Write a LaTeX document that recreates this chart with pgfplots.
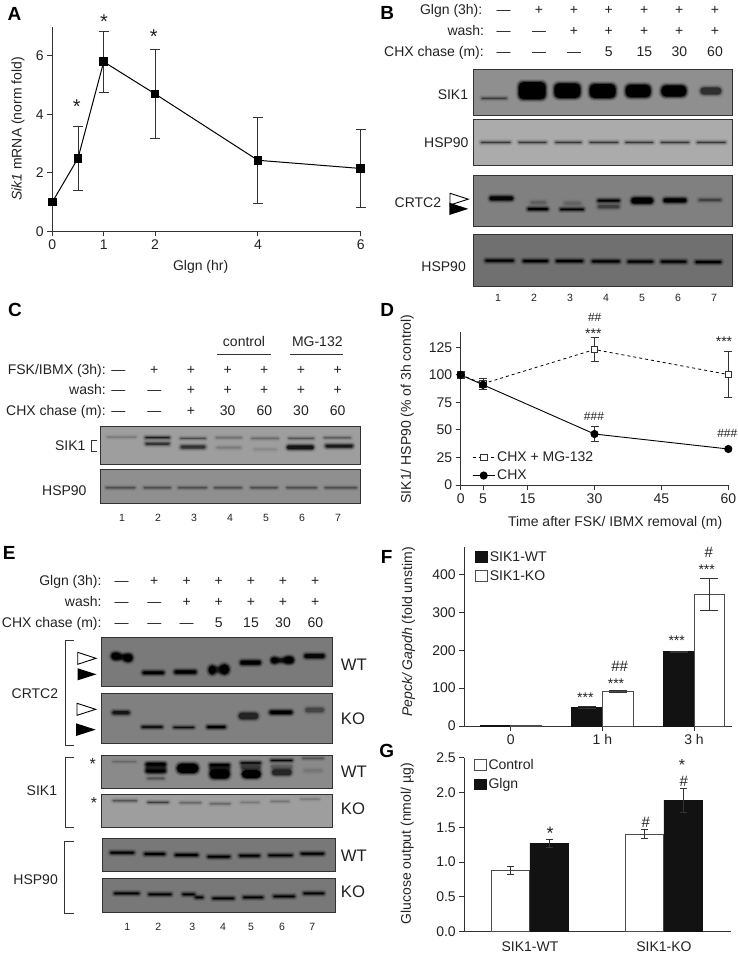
\documentclass[border=0pt]{standalone}
\usepackage{fontspec}
\setmainfont{Liberation Sans}
\usepackage{pgfplots}
\pgfplotsset{compat=1.18}
\definecolor{ax}{HTML}{333333}
\definecolor{tx}{HTML}{222222}
\newcommand\fn{\fontsize{14}{16}\selectfont}
\newcommand\fs{\fontsize{10.5}{12}\selectfont}
\pgfplotsset{base/.style={scale only axis,clip=false,axis x line*=bottom,axis y line*=left,
  every non boxed x axis/.append style={x axis line style={-}},
  every non boxed y axis/.append style={y axis line style={-}},
  axis line style={draw=ax,line width=.9pt,-},
  tick style={draw=ax,line width=.9pt},major tick length=5pt,tick align=outside,
  /pgf/number format/assume math mode=true,
  tick label style={font=\fn,text=tx},label style={font=\fn,text=tx},
  xlabel style={anchor=center},ylabel style={anchor=center}},
  boxleg/.style={legend image code/.code={\draw[##1] (0pt,-5pt) rectangle (11.7pt,5.3pt);}},
  lineleg/.style={legend image code/.code={\draw[##1,mark repeat=2,mark phase=2] plot coordinates {(0pt,0pt) (11pt,0pt) (22pt,0pt)};}}
}
% text helpers (pixel coordinates of the picture)
\newcommand\tr[3]{\node[anchor=mid east,inner sep=0pt,text=tx] at (#1,{#2+2.5}) {#3};}
\newcommand\tc[3]{\node[anchor=mid,inner sep=0pt,text=tx] at (#1,{#2+2.5}) {#3};}
\newcommand\tl[3]{\node[anchor=mid west,inner sep=0pt,text=tx] at (#1,{#2+2.5}) {#3};}
\newcommand\letter[3]{\node[anchor=center,inner sep=0pt,font=\fontsize{19}{20}\selectfont\bfseries,text=black] at (#1,#2) {#3};}
\newcommand\st[4]{\node[inner sep=0pt,text=tx,font=\fontsize{#3}{#3}\selectfont] at ({#1},{#2+0.2*#3}) {#4};}
\newcommand\hs[4]{\node[inner sep=0pt,text=tx,font=\fontsize{#3}{#3}\selectfont] at (#1,#2) {#4};}
\newcommand\blot[5]{\fill[fill=#5,draw=ax,line width=.8pt] (#1,#2) rectangle (#3,#4);}
% gel band in crop units: x0 x1 y h strength
\newcommand\band[5]{%
 \pgfmathsetmacro\rc{min(#4/6.5,5)}%
 \pgfmathsetmacro\oo{.10*#5}\pgfmathsetmacro\oa{.2*#5}\pgfmathsetmacro\ob{.42*#5}\pgfmathsetmacro\oc{#5}%
 \fill[black,opacity=\oo,rounded corners=\rc pt+2.2pt] ({#1-8},{#3-#4/2-8}) rectangle ({#2+8},{#3+#4/2+8});
 \fill[black,opacity=\oa,rounded corners=\rc pt+1.4pt] ({#1-5},{#3-#4/2-5}) rectangle ({#2+5},{#3+#4/2+5});
 \fill[black,opacity=\ob,rounded corners=\rc pt+.7pt] ({#1-2},{#3-#4/2-2}) rectangle ({#2+2},{#3+#4/2+2});
 \fill[black,opacity=\oc,rounded corners=\rc pt] ({#1+1},{#3-#4/2+1}) rectangle ({#2-1},{#3+#4/2-1});
}
\newcommand\arrw[4]{\fill[fill=white,draw=black,line width=.9pt] (#1,#2) -- (#3,{(#2+#4)/2}) -- (#1,#4) -- cycle;}
\newcommand\arrb[4]{\fill[black] (#1,#2) -- (#3,{(#2+#4)/2}) -- (#1,#4) -- cycle;}
\newcommand\brk[4]{\draw[ax,line width=1pt] (#3,#2) -- (#1,#2) -- (#1,#4) -- (#3,#4);}
\begin{document}
\begin{tikzpicture}[x=1pt,y=-1pt,font=\fn]
\useasboundingbox (0,0) rectangle (738,956);

% ---------- A
\begin{axis}[base,at={(52.3pt,-231.3pt)},anchor=south west,width=308.4pt,height=204.6pt,
 xmin=0,xmax=6,ymin=0,ymax=7,xtick={0,1,2,4,6},ytick={0,2,4,6},
 xlabel={Glgn (hr)},ylabel={\textit{Sik1} mRNA (norm fold)},
 xlabel style={at={(axis description cs:0.481,-0.174)}},
 ylabel style={at={(axis description cs:-0.111,0.5)}}]
\addplot[black,line width=1pt,mark=square*,mark size=3.8pt,mark options={solid,fill=black},
 error bars/.cd,y dir=both,y explicit,error bar style={ax,line width=.8pt},error mark options={rotate=90,mark size=5pt,ax,line width=.8pt}]
 coordinates {(0,1) (0.5,2.5) +- (0,1.1) (1,5.8) +- (0,1.04) (2,4.7) +- (0,1.52) (4,2.43) +- (0,1.47) (6,2.15) +- (0,1.32)};
\end{axis}
\st{76.7}{103}{20}{*}\st{104}{18}{20}{*}\st{153.7}{32.3}{20}{*}
\letter{14.5}{13.5}{A}

% ---------- B
\letter{387.3}{12.7}{B}
\tr{482.5}{9}{Glgn (3h):}\tr{484.3}{30.7}{wash:}\tr{484}{51.7}{CHX chase (m):}
\foreach \x/\a/\b/\c in {503.7/—/—/—,539/+/—/—,574/+/+/—,608.7/+/+/5,644.3/+/+/15,679.3/+/+/30,715/+/+/60}{
  \tc{\x}{9}{\a}\tc{\x}{30.7}{\b}\tc{\x}{51.7}{\c}}
\blot{473.3}{69.3}{732.3}{115}{black!44}
\blot{473.3}{119.3}{732.3}{165.3}{black!33}
\blot{473.3}{175.3}{732.3}{226.7}{black!50}
\blot{473.3}{234.3}{732.3}{286}{black!56}
\begin{scope}[shift={(370,0)},x=.33333pt,y=-.33333pt]
\band{335}{410}{295}{4}{.55}
\band{445}{528}{272}{54}{1}\band{552}{632}{272}{46}{1}\band{658}{738}{273}{44}{1}\band{766}{843}{273}{40}{1}\band{873}{950}{273}{36}{1}
\band{990}{1055}{273}{24}{.5}
\foreach \a/\b in {332/422,445/530,555/635,658/745,765/850,872/958,980/1068}{\band{\a}{\b}{427}{5}{.5}}
\band{358}{430}{595}{14}{.9}
\band{472}{535}{627}{8}{1}\band{570}{642}{628}{7}{1}\band{480}{530}{608}{12}{.15}\band{580}{635}{610}{12}{.13}
\band{682}{750}{620}{12}{.35}\band{682}{750}{602}{8}{.95}
\band{783}{850}{602}{20}{1}\band{880}{950}{601}{14}{1}\band{985}{1055}{600}{9}{.35}
\foreach \a/\b/\y in {345/432/782,458/535/783,557/640/783,665/750/784,772/850/785,872/950/785,975/1055/786}{\band{\a}{\b}{\y}{8}{1}}
\end{scope}
\tr{468.3}{94}{SIK1}\tr{468.7}{142.7}{HSP90}\tr{441.3}{202.3}{CRTC2}\tr{466}{266}{HSP90}
\arrw{450}{193.3}{468.3}{205}\arrb{449.3}{202.7}{468.3}{215}
\begin{scope}[font=\fs]
\foreach \x/\n in {498/1,534/2,570/3,606/4,642/5,678/6,714/7}{\tc{\x}{296.5}{\n}}
\end{scope}

% ---------- C
\letter{15}{310}{C}
\tc{244}{341.7}{control}\tc{317.3}{341.7}{MG-132}
\draw[ax,line width=.9pt] (217.3,354) -- (270.7,354) (290.3,354) -- (343.3,354);
\tr{106}{369}{FSK/IBMX (3h):}\tr{106}{389.3}{wash:}\tr{106}{410.7}{CHX chase (m):}
\foreach \x/\a/\b/\c in {118.3/—/—/—,154.3/+/—/—,191/+/+/+,227.7/+/+/30,264.3/+/+/60,301/+/+/30,337.7/+/+/60}{
  \tc{\x}{369}{\a}\tc{\x}{389.3}{\b}\tc{\x}{410.7}{\c}}
\blot{100}{426}{360}{464.3}{black!38}
\blot{100}{469.3}{360}{503.3}{black!44}
\begin{scope}[shift={(0,290)},x=.33333pt,y=-.33333pt]
\band{322}{408}{441}{2}{.25}\band{435}{510}{443}{5}{.7}\band{540}{618}{445}{3}{.45}\band{648}{725}{443}{2}{.35}
\band{755}{835}{445}{2}{.4}\band{865}{942}{445}{3}{.4}\band{972}{1052}{443}{3}{.45}
\band{435}{510}{461}{9}{.5}\band{540}{618}{471}{12}{.5}\band{648}{725}{473}{8}{.13}\band{760}{830}{478}{6}{.08}
\band{860}{942}{472}{14}{.75}\band{975}{1060}{468}{11}{.7}
\foreach \a/\b in {318/405,432/512,535/620,643/725,752/832,860/950,975/1070}{\band{\a}{\b}{593}{3}{.5}}
\end{scope}
\tr{85.7}{445.7}{SIK1}\tr{86.7}{490}{HSP90}
\draw[ax,line width=.8pt] (96.7,440) -- (91,440) -- (91,451.7) -- (96.7,451.7);
\begin{scope}[font=\fs]
\foreach \x/\n in {122/1,158/2,194/3,230/4,266/5,302/6,338/7}{\tc{\x}{516}{\n}}
\end{scope}

% ---------- D
\letter{387.3}{310}{D}
\begin{axis}[base,at={(460.7pt,-485pt)},anchor=south west,width=267.6pt,height=153.3pt,
 xmin=0,xmax=60,ymin=0,ymax=139.2,xtick={0,5,15,30,45,60},ytick={0,25,50,75,100,125},
 xlabel={Time after FSK/ IBMX removal (m)},ylabel={SIK1/ HSP90 (\% of 3h control)},
 xlabel style={at={(axis description cs:0.577,-0.245)}},
 ylabel style={at={(axis description cs:-0.2,0.496)}},
 legend style={at={(axis description cs:0.0425,0.232)},anchor=north west,draw=none,fill=none,font=\fn,text=tx,
   inner sep=0pt,row sep=3pt,/tikz/every even column/.append style={column sep=8pt}},legend cell align=left]
\addplot[lineleg,black,line width=.8pt,dashed,mark=square*,mark size=3.3pt,mark options={solid,fill=white,draw=ax,line width=.9pt},
 error bars/.cd,y dir=both,y explicit,error bar style={ax,line width=.9pt,solid},error mark options={rotate=90,mark size=4pt,ax,line width=.9pt,solid}]
 coordinates {(0,100) (5,92) +- (0,5) (30,123) += (0,11.3) -= (0,11) (60,100.3) += (0,20.7) -= (0,20.7)};
\addlegendentry{CHX + MG-132}
\addplot[lineleg,black,line width=.9pt,mark=*,mark size=3.6pt,mark options={solid,fill=black},
 error bars/.cd,y dir=both,y explicit,error bar style={ax,line width=.9pt},error mark options={rotate=90,mark size=4pt,ax,line width=.9pt}]
 coordinates {(0,100) (5,91) +- (0,4) (30,46.3) += (0,7) -= (0,6.3) (60,32.7)};
\addlegendentry{CHX}
\end{axis}
\hs{594.7}{317.3}{12}{\#\#}\st{593.3}{330.7}{14}{***}\st{724}{339}{14}{***}
\hs{594}{416}{12}{\#\#\#}\hs{727.3}{433.3}{12}{\#\#\#}

% ---------- E
\letter{9.3}{552.7}{E}
\tr{101.7}{580}{Glgn (3h):}\tr{101.7}{601}{wash:}\tr{101.7}{622.3}{CHX chase (m):}
\foreach \x/\a/\b/\c in {121.7/—/—/—,154.3/+/—/—,186.7/+/+/—,218.7/+/+/5,251/+/+/15,283/+/+/30,315.3/+/+/60}{
  \tc{\x}{580}{\a}\tc{\x}{601}{\b}\tc{\x}{622.3}{\c}}
\blot{101.7}{637.3}{332.7}{686.7}{black!52}
\blot{101.7}{693.3}{332.7}{743.3}{black!50}
\blot{101.7}{755}{332.7}{788.3}{black!46}
\blot{101.7}{794}{332.7}{827.3}{black!38}
\blot{102.3}{838.3}{335}{871.7}{black!53}
\blot{102.3}{878.3}{335}{912.3}{black!53}
\begin{scope}[shift={(0,520)},x=.33333pt,y=-.33333pt]
\band{340}{395}{411}{16}{.75}\band{333}{362}{408}{22}{1}\band{370}{398}{414}{24}{1}
\band{427}{493}{458}{10}{1}\band{522}{590}{456}{12}{1}
\band{630}{685}{449}{18}{.5}\band{625}{648}{450}{28}{1}\band{658}{688}{448}{32}{1}
\band{720}{783}{428}{14}{1}\band{815}{880}{421}{14}{.75}\band{813}{833}{421}{18}{1}\band{852}{881}{420}{22}{1}\band{912}{975}{408}{14}{.85}
\band{336}{390}{578}{12}{.7}
\band{425}{488}{621}{6}{1}\band{520}{583}{622}{5}{.8}\band{620}{678}{621}{8}{1}
\band{715}{776}{588}{22}{.55}\band{808}{878}{577}{12}{1}\band{915}{973}{570}{16}{.3}
\end{scope}
\begin{scope}[shift={(0,740)},x=.33333pt,y=-.33333pt]
\band{338}{408}{65}{1}{.25}
\band{437}{498}{84}{30}{.5}\band{437}{498}{73}{10}{1}\band{437}{498}{93}{10}{1}\band{440}{495}{115}{8}{.25}
\band{530}{596}{85}{30}{1}
\band{628}{690}{85}{20}{.5}\band{628}{690}{75}{8}{1}\band{628}{690}{102}{30}{1}
\band{722}{783}{82}{14}{.4}\band{722}{783}{69}{6}{1}\band{725}{783}{102}{26}{1}
\band{812}{878}{80}{15}{.2}\band{812}{878}{61}{5}{.9}\band{815}{876}{97}{20}{.55}
\band{908}{970}{55}{2}{.5}\band{910}{968}{92}{12}{.07}
\band{339}{410}{182}{3}{.5}\band{442}{506}{187}{3}{.55}\band{540}{603}{188}{3}{.35}\band{630}{691}{191}{3}{.35}
\band{722}{778}{187}{3}{.18}\band{812}{868}{184}{3}{.2}\band{902}{958}{177}{2}{.25}
\foreach \a/\b/\y in {330/403/338,432/496/342,524/595/345,622/691/350,717/780/347,805/878/346,902/973/341}{\band{\a}{\b}{\y}{7}{1}}
\foreach \a/\b/\y in {342/418/460,445/515/463,547/585/463,585/610/472,637/703/475,729/790/472,820/885/469,910/973/460}{\band{\a}{\b}{\y}{7}{1}}
\end{scope}
\begin{scope}[font=\fontsize{16.7}{18}\selectfont]
\tl{340.7}{665.7}{WT}\tl{340.7}{719}{KO}\tl{340.7}{772.7}{WT}\tl{340.7}{809}{KO}\tl{340.7}{856}{WT}\tl{340.7}{892.3}{KO}
\end{scope}
\brk{65}{640}{74.3}{745}\brk{65}{757.3}{74.3}{827.3}\brk{64}{841.7}{74}{913.3}
\tr{58.3}{693.3}{CRTC2}\tr{57.3}{790.7}{SIK1}\tr{58}{879}{HSP90}
\arrw{77.7}{652.3}{96}{664.3}\arrb{77.7}{668.3}{96.5}{680.3}
\arrw{77}{703.3}{95.7}{715.3}\arrb{76}{723.3}{95.7}{736}
\st{92.7}{760.7}{16}{*}\st{94}{799.3}{16}{*}
\begin{scope}[font=\fs]
\foreach \x/\n in {127.3/1,158.3/2,192.3/3,223/4,251/5,282/6,312.3/7}{\tc{\x}{925}{\n}}
\end{scope}

% ---------- F
\letter{386.7}{556.7}{F}
\begin{axis}[base,at={(464.3pt,-726pt)},anchor=south west,width=267.4pt,height=178.7pt,
 ybar=0pt,bar width=30.7pt,xmin=-0.506,xmax=2.411,ymin=0,ymax=471.5,
 xtick={0,1,2},xticklabels={0,1 h,3 h},ytick={0,100,200,300,400},
 ylabel={\textit{Pepck/ Gapdh} (fold unstim)},
 ylabel style={at={(axis description cs:-0.209,0.526)}},
 legend style={at={(axis description cs:0.04,0.99)},anchor=north west,draw=none,fill=none,font=\fn,text=tx,
   inner sep=0pt,row sep=4pt},legend cell align=left]
\addplot[boxleg,fill=black!93,draw=black!93,line width=.8pt,
 error bars/.cd,y dir=both,y explicit,error bar style={ax,line width=.9pt},error mark options={rotate=90,mark size=9pt,ax,line width=.9pt}]
 coordinates {(0,1) (1,49) +- (0,1.5) (2,196) +- (0,2)};
\addlegendentry{SIK1-WT}
\addplot[boxleg,fill=white,draw=black!70,line width=1pt,
 error bars/.cd,y dir=both,y explicit,error bar style={ax,line width=.9pt},error mark options={rotate=90,mark size=9pt,ax,line width=.9pt}]
 coordinates {(0,1) (1,91.5) +- (0,3) (2,347) +- (0,43)};
\addlegendentry{SIK1-KO}
\end{axis}
\hs{708.7}{552.7}{15}{\#}\st{706.7}{566.7}{14}{***}\st{676.7}{638.3}{14}{***}
\hs{619.7}{666}{15}{\#\#}\st{616}{681}{14}{***}\st{585.3}{695}{14}{***}

% ---------- G
\letter{386.7}{750.7}{G}
\begin{axis}[base,at={(464.3pt,-931.7pt)},anchor=south west,width=266.7pt,height=174pt,
 ybar=0pt,bar width=38.3pt,xmin=-0.49,xmax=1.5,ymin=0,ymax=2.5,
 xtick={0,1},xticklabels={SIK1-WT,SIK1-KO},ytick={0,0.5,1,1.5,2,2.5},
 x tick style={draw=none},xticklabel style={yshift=-1pt},
 yticklabel style={/pgf/number format/fixed,/pgf/number format/fixed zerofill,/pgf/number format/precision=1},
 ylabel={Glucose output (nmol/ µg)},
 ylabel style={at={(axis description cs:-0.214,0.505)}},
 legend style={at={(axis description cs:0.035,1.003)},anchor=north west,draw=none,fill=none,font=\fn,text=tx,
   inner sep=0pt,row sep=3.5pt},legend cell align=left]
\addplot[boxleg,fill=white,draw=black!70,line width=1pt,
 error bars/.cd,y dir=both,y explicit,error bar style={ax,line width=.9pt},error mark options={rotate=90,mark size=3.5pt,ax,line width=.9pt}]
 coordinates {(0,0.876) +- (0,0.06) (1,1.4) +- (0,0.065)};
\addlegendentry{Control}
\addplot[boxleg,fill=black!93,draw=black!93,line width=.8pt,
 error bars/.cd,y dir=both,y explicit,error bar style={ax,line width=.9pt},error mark options={rotate=90,mark size=3.5pt,ax,line width=.9pt}]
 coordinates {(0,1.27) +- (0,0.06) (1,1.89) +- (0,0.17)};
\addlegendentry{Glgn}
\end{axis}
\st{550}{829.3}{18}{*}\hs{645.7}{822.7}{15}{\#}\hs{683.7}{781}{15}{\#}\st{682}{762}{16}{*}
\end{tikzpicture}
\end{document}
